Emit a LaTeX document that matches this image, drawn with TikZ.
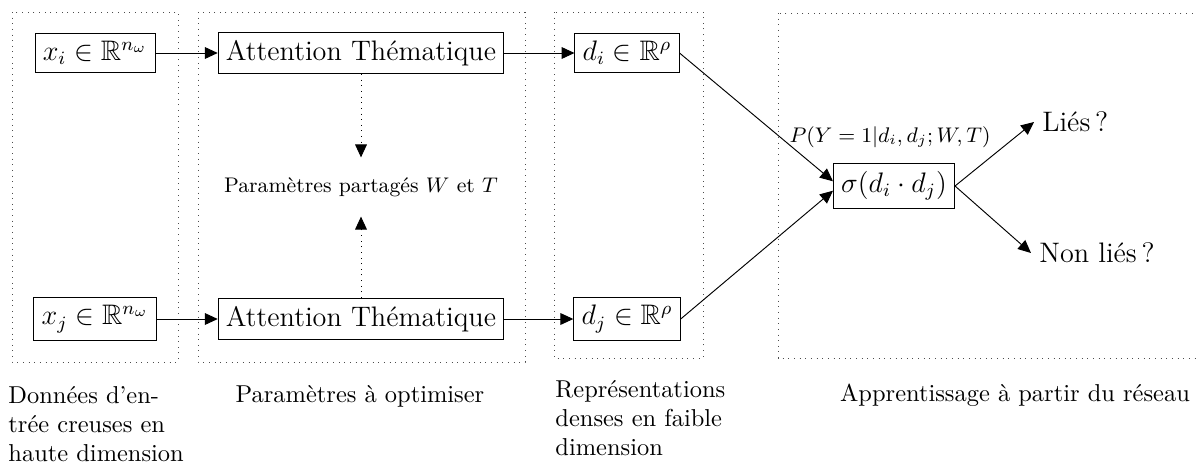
\documentclass[tikz,border=0pt]{standalone}
\usepackage{amssymb}
\usetikzlibrary{arrows.meta}
\begin{document}
\begin{tikzpicture}[x=0.01496cm,y=-0.01496cm,
  box/.style={draw,font=\large,inner sep=3.3pt},
  cadre/.style={dotted,black!70},
  fl/.style={-{Triangle[length=5.5pt,width=5pt]}},
  texte/.style={font=\fontsize{10.4}{12.4}\selectfont},
  legende/.style={texte,align=left,inner sep=0pt,anchor=north west}]
\useasboundingbox (0,0) rectangle (1196,465);
% cadres
\draw[cadre] (12,12) rectangle (178,362);
\draw[cadre] (198,12) rectangle (525,362);
\draw[cadre] (554,12) rectangle (703,358);
\draw[cadre] (778,13) rectangle (1210,358);
% premiere paire
\node[box] (xi) at (95,53) {$x_i \in \mathbb{R}^{n_\omega}$};
\node[box] (atti) at (361,53) {Attention Thématique};
\node[box] (di) at (627,53) {$d_i \in \mathbb{R}^{\rho}$};
% seconde paire
\node[box] (xj) at (95,319) {$x_j \in \mathbb{R}^{n_\omega}$};
\node[box] (attj) at (361,319) {Attention Thématique};
\node[box] (dj) at (627,319) {$d_j \in \mathbb{R}^{\rho}$};
\node[font=\small] (wt) at (361,187) {Paramètres partagés $W$ et $T$};
% sortie
\node[box] (sig) at (894,186) {$\sigma(d_i \cdot d_j)$};
\node[font=\small] (proba) at (890,137) {$P(Y=1|d_i,d_j;W,T)$};
\node[font=\large,anchor=west] (lies) at (1034,122) {Liés\,?};
\node[font=\large,anchor=west] (nonlies) at (1031,253) {Non liés\,?};
\draw[fl] (xi) -- (atti);
\draw[fl] (atti) -- (di);
\draw[fl] (xj) -- (attj);
\draw[fl] (attj) -- (dj);
\draw[fl,dotted,shorten >=5pt] (atti) -- (wt);
\draw[fl,dotted,shorten >=5pt] (attj) -- (wt);
\draw[fl] (di.east) -- ([yshift=2pt]sig.west);
\draw[fl] (dj.east) -- ([yshift=-2pt]sig.west);
\draw[fl] (sig.east) -- (lies.west);
\draw[fl] (sig.east) -- (nonlies.west);
% legendes
\node[legende] (l1) at (8,386) {Données d'en-\\trée creuses en\\haute dimension};
\node[texte,anchor=base] (l2) at (360,402) {Paramètres à optimiser};
\node[legende] (l3) at (555,380) {Représentations\\denses en faible\\dimension};
\node[texte,anchor=base] (l4) at (1015,401) {Apprentissage à partir du réseau};
\end{tikzpicture}
\end{document}
